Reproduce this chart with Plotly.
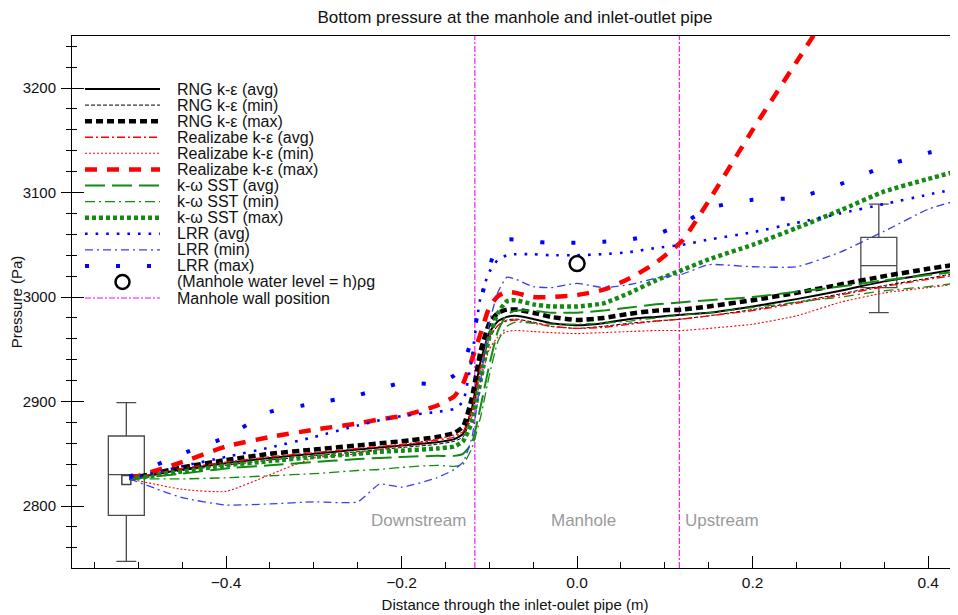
import plotly.graph_objects as go

# ---------------- data ----------------
X = [-0.51, -0.45, -0.40, -0.35, -0.30, -0.25, -0.225, -0.20, -0.16, -0.14, -0.13, -0.12, -0.11,
     -0.10, -0.09, -0.08, -0.07, -0.05, -0.03, 0.00, 0.03, 0.06, 0.09, 0.12, 0.15, 0.20, 0.25,
     0.30, 0.35, 0.40, 0.44]

rng_avg = [2826, 2835, 2841, 2846, 2850, 2854, 2856, 2858, 2861, 2864, 2869, 2893, 2938, 2966, 2977, 2981,
           2982, 2979, 2975, 2973, 2975, 2979, 2981, 2983, 2985, 2991, 2998, 3006, 3015, 3022, 3028]
rng_min = [2826, 2834, 2839, 2844, 2848, 2852, 2854, 2856, 2859, 2862, 2866, 2886, 2930, 2960, 2973, 2978,
           2979, 2976, 2972, 2970, 2972, 2975, 2977, 2979, 2982, 2988, 2995, 3003, 3011, 3018, 3024]
rng_max = [2826, 2837, 2844, 2850, 2854, 2858, 2860, 2862, 2866, 2870, 2876, 2903, 2948, 2975, 2985, 2988,
           2988, 2985, 2981, 2978, 2980, 2984, 2987, 2988, 2991, 2997, 3004, 3012, 3020, 3027, 3032]
real_avg = [2826, 2836, 2842, 2847, 2851, 2855, 2857, 2859, 2863, 2866, 2871, 2892, 2934, 2962, 2973, 2977,
            2978, 2975, 2972, 2970, 2971, 2974, 2977, 2979, 2982, 2987, 2994, 3002, 3010, 3017, 3022]
real_min = [2826, 2816, 2814, 2830, 2846, 2850, 2854, 2858, 2864, 2868, 2871, 2885, 2920, 2950, 2962, 2967,
            2968, 2967, 2966, 2965, 2966, 2967, 2968, 2968, 2970, 2974, 2982, 2995, 3004, 3009, 3013]
real_max = [2826, 2842, 2857, 2866, 2873, 2879, 2883, 2886, 2896, 2905, 2917, 2940, 2965, 2990, 3001, 3005,
            3004, 3000, 3000, 3002, 3007, 3018, 3033, 3054, 3092, 3160, 3225, 3290, None, None, None]
sst_avg = [2826, 2831, 2836, 2839, 2842, 2845, 2846, 2847, 2848, 2848, 2850, 2860, 2895, 2935, 2968, 2983,
           2987, 2987, 2985, 2985, 2987, 2990, 2993, 2995, 2997, 3000, 3005, 3010, 3016, 3021, 3025]
sst_min = [2826, 2826, 2827, 2829, 2831, 2834, 2835, 2837, 2839, 2838, 2840, 2855, 2885, 2925, 2958, 2972,
           2976, 2975, 2974, 2974, 2975, 2977, 2980, 2983, 2985, 2990, 2995, 3000, 3006, 3010, 3014]
sst_max = [2826, 2833, 2839, 2843, 2847, 2850, 2852, 2853, 2855, 2857, 2862, 2880, 2920, 2962, 2985, 2996,
           2997, 2993, 2991, 2991, 2994, 3004, 3016, 3026, 3036, 3050, 3066, 3083, 3101, 3113, 3122]
lrr_avg = [2826, 2838, 2847, 2856, 2866, 2877, 2882, 2886, 2890, 2893, 2900, 2942, 3000, 3024, 3036, 3040,
           3041, 3041, 3040, 3040, 3041, 3043, 3047, 3050, 3055, 3062, 3071, 3080, 3089, 3098, 3105]
lrr_min = [2826, 2808, 2801, 2802, 2804, 2804, 2821, 2818, 2827, 2835, 2842, 2865, 2920, 2975, 3005, 3019,
           3017, 3010, 3009, 3013, 3009, 3012, 3018, 3022, 3031, 3029, 3029, 3043, 3063, 3084, 3094]
lrr_max = [2828, 2850, 2866, 2890, 2898, 2906, 2912, 2918, 2917, 2925, 2935, 2960, 2995, 3030, 3048, 3055,
           3055, 3053, 3052, 3052, 3053, 3055, 3060, 3070, 3085, 3093, 3095, 3108, 3125, 3138, 3145]

# manhole water level point
level_x = [0.0]
level_y = [3032]

# manhole wall positions (m)
wall_x = [-0.1165, 0.1165]

# box plots (measurements) at the two ends
box_x = [-0.5136, 0.3438]
box_low = [2747, 2985]
box_q1 = [2791, 3009]
box_med = [2830, 3030]
box_q3 = [2867, 3057]
box_high = [2899, 3089]
inlet_mark_x = [-0.5136]
inlet_mark_y = [2825]

# region labels
region_names = ["Downstream", "Manhole", "Upstream"]
region_x = [-0.181, 0.007, 0.165]
region_y = 2786

X_RANGE = [-0.5755, 0.434]
Y_RANGE = [2740.7, 3249.8]

FONT = "Liberation Sans, Arial, sans-serif"
TXT = "#111111"
BLACK = "#000000"
RED = "#ff0000"
GREEN = "#138a13"
BLUE = "#0000ff"
BLUE2 = "#3b3bf0"
MAG = "#ff00ff"

# figure geometry (page has an 8px body margin)
W, H = 950, 607
ML, MR, MT, MB = 64, 0, 28, 47
PW, PH = W - ML - MR, H - MT - MB

fig = go.Figure()

# boxes
for i in range(len(box_x)):
    fig.add_trace(go.Box(
        x=[box_x[i]], q1=[box_q1[i]], median=[box_med[i]], q3=[box_q3[i]],
        lowerfence=[box_low[i]], upperfence=[box_high[i]],
        width=0.041, whiskerwidth=0.55, boxpoints=False,
        line=dict(color="#4a4a4a", width=1.3), fillcolor="rgba(0,0,0,0)",
        showlegend=False, hoverinfo="skip"))

fig.add_trace(go.Scatter(x=inlet_mark_x, y=inlet_mark_y, mode="markers",
                         marker=dict(symbol="square-open", size=9, color="#444444",
                                     line=dict(width=1.5, color="#444444")),
                         showlegend=False, hoverinfo="skip"))

series = [
    ("RNG k-ε (avg)", rng_avg, BLACK, 2.0, "solid"),
    ("RNG k-ε (min)", rng_min, BLACK, 1.0, "4px,2px"),
    ("RNG k-ε (max)", rng_max, BLACK, 4.5, "7px,4px"),
    ("Realizabe k-ε (avg)", real_avg, RED, 1.4, "8px,3px,2px,3px"),
    ("Realizabe k-ε (min)", real_min, RED, 1.1, "2px,2px"),
    ("Realizabe k-ε (max)", real_max, RED, 4.5, "12px,10px"),
    ("k-ω SST (avg)", sst_avg, GREEN, 2.0, "20px,7px"),
    ("k-ω SST (min)", sst_min, GREEN, 1.3, "10px,4px,2px,4px"),
    ("k-ω SST (max)", sst_max, GREEN, 4.5, "4px,3px"),
    ("LRR (avg)", lrr_avg, BLUE, 2.6, "2.6px,8px"),
    ("LRR (min)", lrr_min, BLUE2, 1.3, "8px,4px,2px,4px"),
    ("LRR (max)", lrr_max, BLUE, 4.0, "4px,27px"),
]

# manhole walls
wx, wy = [], []
for xv in wall_x:
    wx += [xv, xv, None]
    wy += [Y_RANGE[0], Y_RANGE[1], None]
WALL_NAME = "Manhole wall position"
WALL_DASH = "6px,2px,2px,2px"
fig.add_trace(go.Scatter(x=wx, y=wy, mode="lines", name=WALL_NAME, showlegend=False,
                         line=dict(color=MAG, width=1.1, dash=WALL_DASH), hoverinfo="skip"))

for name, ys, col, w, dash in series:
    fig.add_trace(go.Scatter(x=X, y=ys, mode="lines", name=name, showlegend=False,
                             line=dict(color=col, width=w, dash=dash, shape="spline", smoothing=0.5),
                             hoverinfo="skip"))

LEVEL_NAME = "(Manhole water level = h)ρg"
fig.add_trace(go.Scatter(x=level_x, y=level_y, mode="markers", name=LEVEL_NAME, showlegend=False,
                         marker=dict(symbol="circle-open", size=15, color=BLACK,
                                     line=dict(width=2.5, color=BLACK)), hoverinfo="skip"))

# dummy trace on overlay axis for inside y ticks
fig.add_trace(go.Scatter(x=[None], y=[None], yaxis="y2", showlegend=False, hoverinfo="skip"))

for nm, xv in zip(region_names, region_x):
    fig.add_annotation(x=xv, y=region_y, text=nm, showarrow=False,
                       font=dict(family=FONT, size=17, color="#9a9a9a"))

# ---------- compact legend (MATLAB-like row spacing) ----------
LEG_X0, LEG_X1, LEG_TX = 13, 88, 103     # px from plot left: sample start, sample end, text start
LEG_Y0, LEG_DY = 53, 16.08               # px from plot top: first row, row spacing
def px2paper(px, py):
    return px / PW, 1 - py / PH

entries = [(n, c, w, d) for n, _, c, w, d in series] + [(LEVEL_NAME, None, None, None),
                                                        (WALL_NAME, MAG, 1.1, WALL_DASH)]
for i, (name, col, w, dash) in enumerate(entries):
    yrow = LEG_Y0 + i * LEG_DY
    xa, ya = px2paper(LEG_X0, yrow)
    xb, _ = px2paper(LEG_X1, yrow)
    if col is None:
        cx = (LEG_X0 + LEG_X1) / 2
        x0, y0 = px2paper(cx - 7, yrow + 7)
        x1, y1 = px2paper(cx + 7, yrow - 7)
        fig.add_shape(type="circle", xref="paper", yref="paper", x0=x0, x1=x1, y0=y0, y1=y1,
                      line=dict(color=BLACK, width=2.5))
    else:
        fig.add_shape(type="line", xref="paper", yref="paper", x0=xa, x1=xb, y0=ya, y1=ya,
                      line=dict(color=col, width=w, dash=dash))
    tx, _ = px2paper(LEG_TX, yrow)
    fig.add_annotation(xref="paper", yref="paper", x=tx, y=ya, xanchor="left", yanchor="middle",
                       text=name, showarrow=False, font=dict(family=FONT, size=16, color=TXT))

fig.update_layout(
    width=W, height=H, autosize=False,
    margin=dict(l=ML, r=MR, t=MT, b=MB, pad=0),
    paper_bgcolor="white", plot_bgcolor="white",
    font=dict(family=FONT, color=TXT),
    title=dict(text="Bottom pressure at the manhole and inlet-outlet pipe", x=0.5, xref="paper",
               y=1 - 9 / H, yanchor="middle", font=dict(size=17, family=FONT, color=TXT)),
    showlegend=False,
    xaxis=dict(range=X_RANGE, showgrid=False, zeroline=False, showline=True, linecolor=BLACK,
               linewidth=1, mirror=True, ticks="inside", ticklen=12, tickcolor=BLACK,
               tick0=0, dtick=0.2, tickformat=".1f", automargin=False,
               minor=dict(dtick=0.05, tick0=0, ticks="inside", ticklen=6, tickcolor=BLACK),
               tickfont=dict(size=15.5, family=FONT, color=TXT),
               title=dict(text="Distance through the inlet-oulet pipe (m)",
                          font=dict(size=15, family=FONT, color=TXT), standoff=9)),
    yaxis=dict(range=Y_RANGE, showgrid=False, zeroline=False, showline=True, linecolor=BLACK,
               linewidth=1, mirror=False, ticks="outside", ticklen=10, tickcolor=BLACK,
               tick0=2800, dtick=100, automargin=False, ticklabelstandoff=2,
               minor=dict(dtick=20, tick0=2800, ticks="outside", ticklen=5, tickcolor=BLACK),
               tickfont=dict(size=15, family=FONT, color=TXT),
               title=dict(text="Pressure (Pa)", font=dict(size=15, family=FONT, color=TXT),
                          standoff=1)),
    yaxis2=dict(range=Y_RANGE, overlaying="y", side="left", anchor="x", showgrid=False,
                zeroline=False, showline=False, showticklabels=False, ticks="inside", ticklen=12,
                tickcolor=BLACK, tick0=2800, dtick=100, automargin=False,
                minor=dict(dtick=20, tick0=2800, ticks="inside", ticklen=5, tickcolor=BLACK)),
)

fig.write_html("out.html")
